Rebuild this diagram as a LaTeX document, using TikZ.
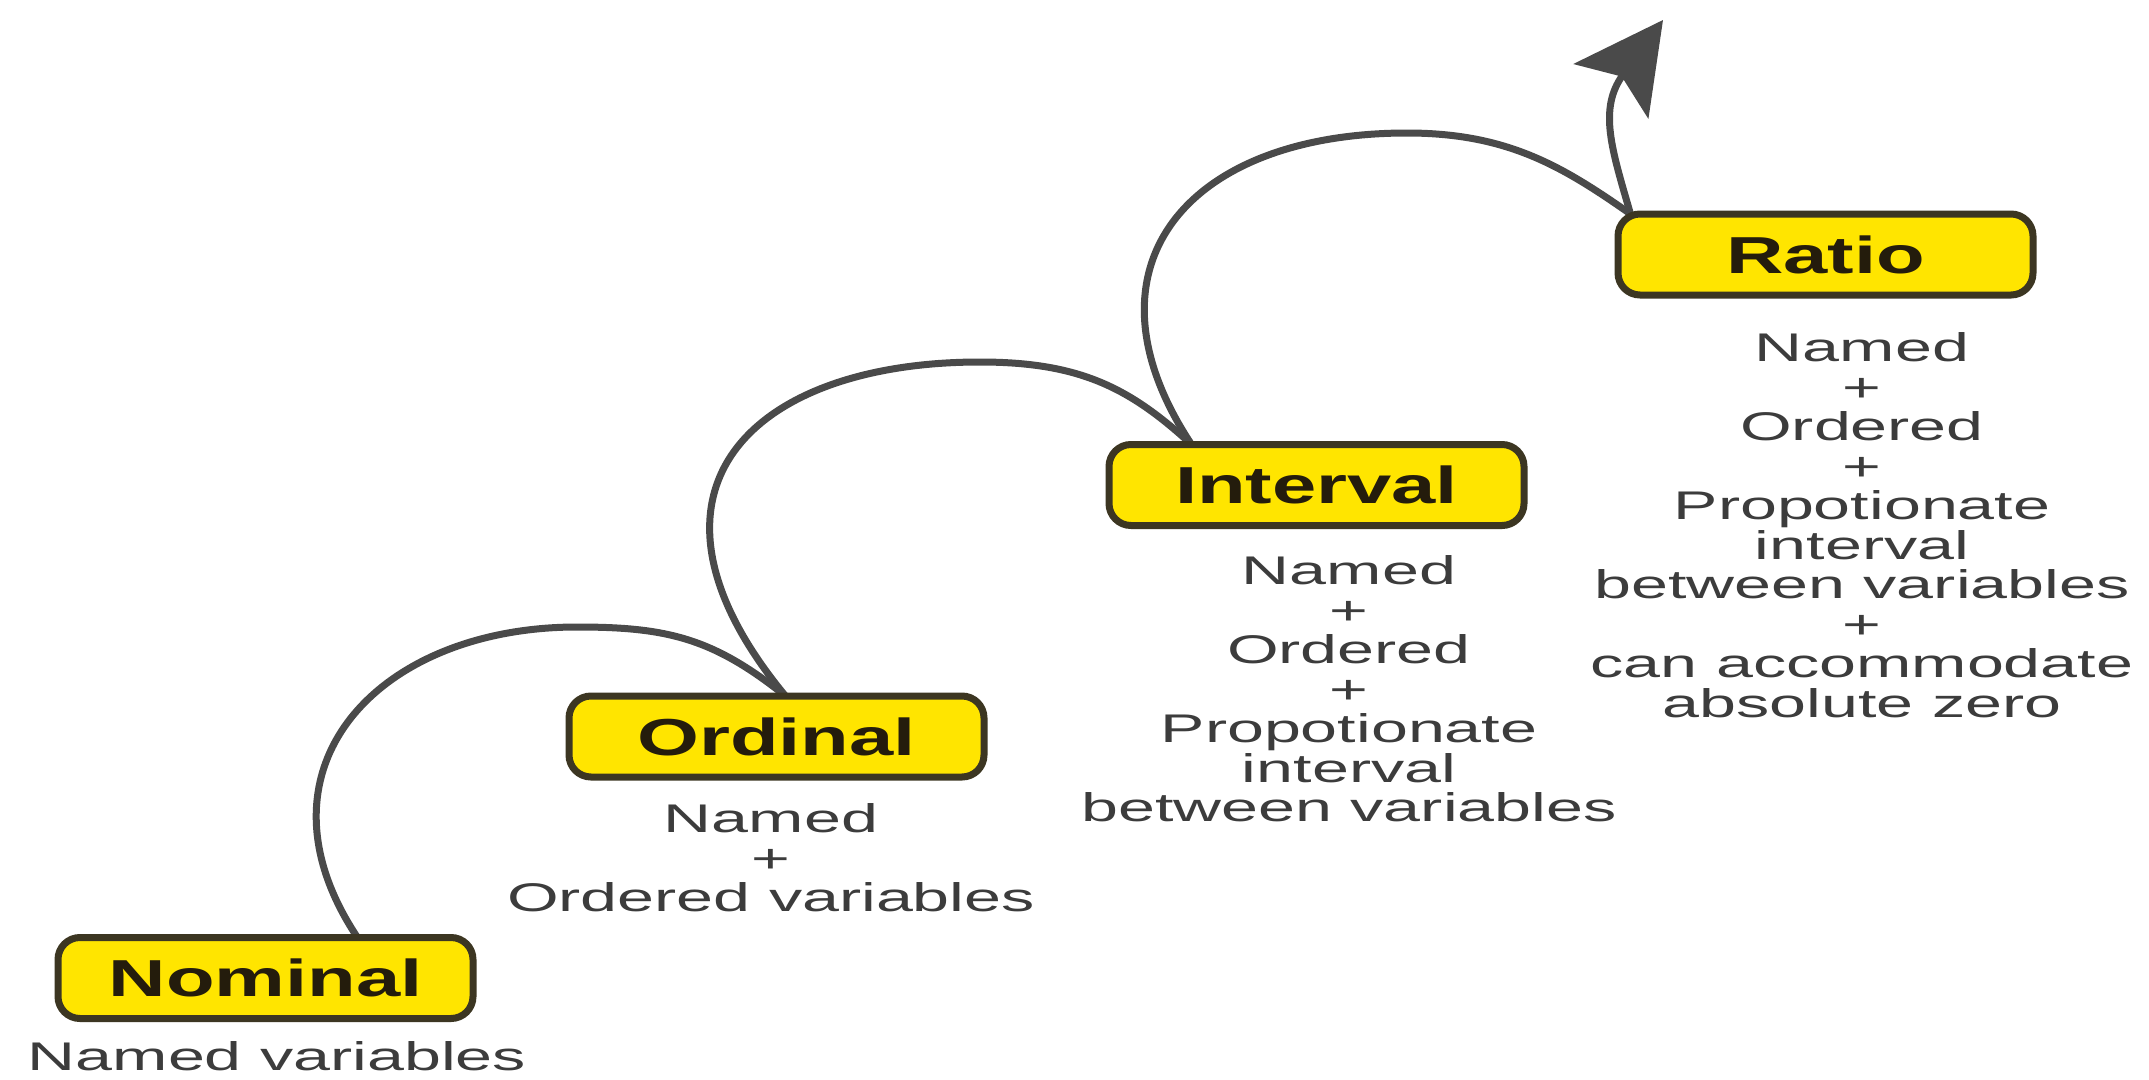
\documentclass[tikz,border=0pt]{standalone}
\usepackage{fontspec}
\setmainfont{Liberation Sans}
\newfontfamily\bodyfont{Liberation Sans}[FakeStretch=1.66]
\newfontfamily\labelfont{Liberation Sans}[FakeStretch=1.53]
\usetikzlibrary{arrows.meta,backgrounds}
\definecolor{boxfill}{RGB}{255,229,0}
\definecolor{boxline}{RGB}{60,54,34}
\definecolor{labeltext}{RGB}{36,28,12}
\definecolor{bodytext}{RGB}{60,60,60}
\definecolor{arcline}{RGB}{74,74,74}
\begin{document}
\begin{tikzpicture}[x=1pt,y=-1pt,
  levelbox/.style={draw=boxline, fill=boxfill, line width=7pt, rounded corners=22pt,
    minimum width=415pt, minimum height=81pt, inner sep=0pt, outer sep=0pt,
    text=labeltext, font=\labelfont\bfseries\fontsize{52}{60}\selectfont},
  desc/.style={align=center, inner sep=0pt, outer sep=0pt, anchor=north,
    text=bodytext, font=\bodyfont\fontsize{40}{39.5}\selectfont},
  stair/.style={draw=arcline, line width=7pt},
]
\useasboundingbox (0,0) rectangle (2149,1079);

% level boxes
\node[levelbox] (nom) at (265.5,978) {Nominal};
\node[levelbox] (ord) at (776.5,736.5) {Ordinal};
\node[levelbox] (int) at (1316.5,485) {Interval};
\node[levelbox] (rat) at (1825.5,254.5) {Ratio};

% descriptions
\node[desc] (nomtxt) at (277,1042) {Named variables};
\node[desc] (ordtxt) at (771,804) {Named\\+\\Ordered variables};
\node[desc] (inttxt) at (1349,556) {Named\\+\\Ordered\\+\\Propotionate\\interval\\between variables};
\node[desc] (rattxt) at (1862,333) {Named\\+\\Ordered\\+\\Propotionate\\interval\\between variables\\+\\can accommodate\\absolute zero};

\coordinate (tip) at (1663,20);

\begin{scope}[on background layer]
\fill[white] (0,0) rectangle (2149,1079);
\draw[stair] ([xshift=299.5pt]nom.north west)
  .. controls (245,769) and (377,627) .. (577,627)
  .. controls (667,627) and (713,638) .. ([xshift=216.5pt]ord.north west);
\draw[stair] ([xshift=216.5pt]ord.north west)
  .. controls (617,492) and (750,362) .. (980,362)
  .. controls (1080,362) and (1130,388) .. ([xshift=82.5pt]int.north west);
\draw[stair] ([xshift=82.5pt]int.north west)
  .. controls (1074,267) and (1187,133) .. (1407,133)
  .. controls (1507,133) and (1562,166) .. ([xshift=12.5pt]rat.north west);
\draw[stair, -{Stealth[length=88pt,width=92pt,inset=18pt]}] ([xshift=12.5pt]rat.north west)
  .. controls (1612,150) and (1598,109) .. (tip);
\end{scope}
\end{tikzpicture}
\end{document}
